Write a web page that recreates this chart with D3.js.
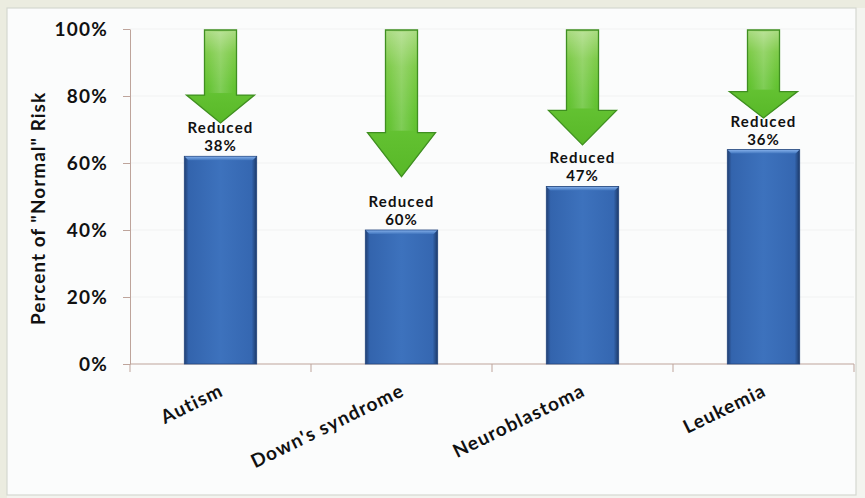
<!DOCTYPE html>
<html>
<head>
<meta charset="utf-8">
<script src="https://cdn.jsdelivr.net/npm/d3@7"></script>
<style>
  body { margin: 0; background: #fff; }
  svg { display: block; }
  text { font-family: Lato, "Open Sans", sans-serif; font-weight: 700; fill: #111; }
</style>
</head>
<body>
<svg id="chart" width="865" height="498"></svg>
<script>
// ---- data ----
const categories = ["Autism", "Down's syndrome", "Neuroblastoma", "Leukemia"];
const riskPercent = [62, 40, 53, 64];        // percent of "normal" risk
const reducedPercent = [38, 60, 47, 36];     // reduction written above each bar
const yTickValues = [0, 20, 40, 60, 80, 100];
const yTitle = 'Percent of "Normal" Risk';

const W = 865, H = 498;
const plot = { left: 130, right: 854, top: 29, bottom: 364 };
const axisColor = "#bea49b";

const svg = d3.select("#chart");
const defs = svg.append("defs");

// ---- backdrop and white panel ----
svg.append("rect").attr("width", W).attr("height", H).attr("fill", "#f3f4ef");
svg.append("rect").attr("width", W).attr("height", 8).attr("fill", "#ebece0");
svg.append("rect").attr("width", 7).attr("height", H).attr("fill", "#ebece0");
svg.append("rect")
  .attr("x", 7).attr("y", 8).attr("width", 849).attr("height", 487)
  .attr("fill", "#fbfcfc").attr("stroke", "#d5d7d0").attr("stroke-width", 1.2);

// ---- scales ----
const x = d3.scaleBand().domain(categories).range([plot.left, plot.right]).padding(0);
const y = d3.scaleLinear().domain([0, 100]).range([plot.bottom, plot.top]);
const barW = x.bandwidth() * 0.40;
const cx = c => x(c) + x.bandwidth() / 2;
// arrow length grows with the stated reduction
const arrowLen = d3.scaleLinear().domain([0, 100]).range([0, 0.73 * (plot.bottom - plot.top)]);

// ---- faint gridlines ----
svg.append("g").selectAll("line")
  .data(yTickValues.filter(v => v > 0))
  .join("line")
  .attr("x1", plot.left).attr("x2", plot.right)
  .attr("y1", d => y(d)).attr("y2", d => y(d))
  .attr("stroke", "#f1f2f2").attr("stroke-width", 1);

// ---- y axis ----
const yAxis = svg.append("g")
  .attr("transform", `translate(${plot.left},0)`)
  .call(d3.axisLeft(y).tickValues(yTickValues).tickFormat(d => d + "%")
    .tickSize(7).tickSizeOuter(0).tickPadding(15));
yAxis.select(".domain").attr("stroke", axisColor);
yAxis.selectAll(".tick line").attr("stroke", axisColor);
yAxis.selectAll(".tick text")
  .attr("font-size", 19).attr("letter-spacing", 1.2).attr("fill", "#111")
  .attr("font-family", "Lato, sans-serif").attr("font-weight", 700);

// ---- x axis ----
const xAxis = svg.append("g").attr("transform", `translate(0,${plot.bottom})`);
xAxis.append("line")
  .attr("x1", plot.left).attr("x2", plot.right)
  .attr("stroke", axisColor);
const edges = categories.map(c => x(c)).concat([x(categories[categories.length - 1]) + x.bandwidth()]);
xAxis.selectAll("line.edge").data(edges).join("line")
  .attr("class", "edge")
  .attr("x1", d => d).attr("x2", d => d).attr("y1", 0).attr("y2", 8)
  .attr("stroke", axisColor);

xAxis.selectAll("text.cat").data(categories).join("text")
  .attr("class", "cat")
  .attr("text-anchor", "end")
  .attr("font-size", 19).attr("letter-spacing", 1.1)
  .attr("transform", d => `translate(${cx(d) + 4},${395 - plot.bottom}) rotate(-26)`)
  .text(d => d);

// ---- y title ----
svg.append("text")
  .attr("transform", `translate(45,${(plot.top + plot.bottom) / 2 + 12}) rotate(-90)`)
  .attr("text-anchor", "middle")
  .attr("font-size", 19).attr("letter-spacing", 1.0)
  .text(yTitle);

// ---- gradients ----
const barGrad = defs.append("linearGradient").attr("id", "barFill")
  .attr("x1", 0).attr("x2", 1).attr("y1", 0).attr("y2", 0);
[[0, "#213f72"], [0.06, "#3364ad"], [0.5, "#3d72bd"], [0.93, "#3567b1"], [1, "#1c3968"]]
  .forEach(([o, c]) => barGrad.append("stop").attr("offset", o).attr("stop-color", c));

const bevelGrad = defs.append("linearGradient").attr("id", "barBevel")
  .attr("x1", 0).attr("x2", 0).attr("y1", 0).attr("y2", 1);
[[0, "#7eaae6"], [1, "#4075be"]]
  .forEach(([o, c]) => bevelGrad.append("stop").attr("offset", o).attr("stop-color", c));

const arrowGrad = defs.append("linearGradient").attr("id", "arrowFill")
  .attr("x1", 0).attr("x2", 0).attr("y1", 0).attr("y2", 1);
[[0, "#acdc84"], [0.25, "#80cc4c"], [0.6, "#66c434"], [1, "#58b828"]]
  .forEach(([o, c]) => arrowGrad.append("stop").attr("offset", o).attr("stop-color", c));

const shaftGloss = defs.append("linearGradient").attr("id", "shaftGloss")
  .attr("x1", 0).attr("x2", 1).attr("y1", 0).attr("y2", 0);
[[0, "#ffffff", 0], [0.5, "#ffffff", 0.18], [1, "#ffffff", 0]]
  .forEach(([o, c, a]) => shaftGloss.append("stop").attr("offset", o)
    .attr("stop-color", c).attr("stop-opacity", a));

// ---- bars ----
const bars = svg.append("g").selectAll("g").data(categories).join("g");
bars.append("rect")
  .attr("x", d => cx(d) - barW / 2)
  .attr("y", (d, i) => y(riskPercent[i]))
  .attr("width", barW)
  .attr("height", (d, i) => y(0) - y(riskPercent[i]))
  .attr("fill", "url(#barFill)")
  .attr("stroke", "#24477e").attr("stroke-width", 0.8);
bars.append("path")
  .attr("d", (d, i) => {
    const x0 = cx(d) - barW / 2, x1 = cx(d) + barW / 2, t = y(riskPercent[i]);
    return `M${x0 + 0.5},${t + 0.5} L${x1 - 0.5},${t + 0.5} L${x1 - 4},${t + 4} L${x0 + 4},${t + 4} Z`;
  })
  .attr("fill", "url(#barBevel)");

// ---- arrows ----
const shaftHalf = 16, headHalf = 34;
const arrows = svg.append("g").selectAll("g").data(categories).join("g");
arrows.append("path")
  .attr("d", (d, i) => {
    const c = cx(d), top = y(100) + 1;
    const len = arrowLen(reducedPercent[i]);
    const tip = top + len, neck = tip - 0.3 * len;
    return `M${c - shaftHalf},${top} L${c + shaftHalf},${top} L${c + shaftHalf},${neck}` +
           ` L${c + headHalf},${neck} L${c},${tip} L${c - headHalf},${neck} L${c - shaftHalf},${neck} Z`;
  })
  .attr("fill", "url(#arrowFill)")
  .attr("stroke", "#3f8f20").attr("stroke-width", 1.3).attr("stroke-linejoin", "miter");
arrows.append("rect")
  .attr("x", d => cx(d) - shaftHalf + 3)
  .attr("y", y(100) + 3)
  .attr("width", 2 * shaftHalf - 6)
  .attr("height", (d, i) => 0.7 * arrowLen(reducedPercent[i]) - 4)
  .attr("fill", "url(#shaftGloss)");

// ---- reduction labels (two lines above each bar) ----
const labels = svg.append("g");
labels.selectAll("text.word").data(categories).join("text")
  .attr("class", "word")
  .attr("text-anchor", "middle")
  .attr("font-size", 15).attr("letter-spacing", 1.2)
  .attr("x", d => cx(d))
  .attr("y", (d, i) => y(riskPercent[i]) - 23)
  .text("Reduced");
labels.selectAll("text.pct").data(categories).join("text")
  .attr("class", "pct")
  .attr("text-anchor", "middle")
  .attr("font-size", 15).attr("letter-spacing", 1.0)
  .attr("x", d => cx(d))
  .attr("y", (d, i) => y(riskPercent[i]) - 5)
  .text((d, i) => reducedPercent[i] + "%");
</script>
</body>
</html>
